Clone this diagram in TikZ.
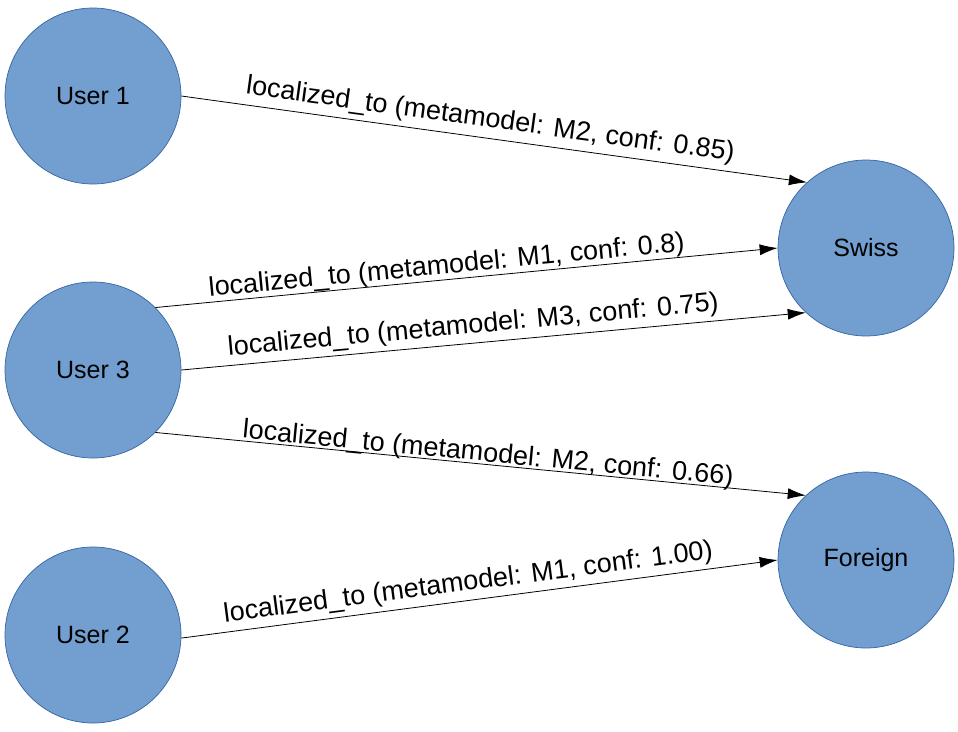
\documentclass[tikz,border=0pt]{standalone}
\usepackage{fontspec}
\setmainfont{Liberation Sans}
\usetikzlibrary{arrows.meta}
\definecolor{nodefill}{HTML}{729FCF}
\definecolor{nodeline}{HTML}{3465A4}
\tikzset{
  ent/.style={circle, draw=nodeline, line width=0.7pt, fill=nodefill, minimum size=176pt, inner sep=0pt, font=\fontsize{25}{30}\selectfont},
  rel/.style={line width=0.8pt, -{Latex[length=18pt,width=11pt]}},
  lbl/.style={sloped, inner sep=0pt, font=\fontsize{27}{30}\selectfont}
}
\begin{document}
\begin{tikzpicture}[x=1pt,y=-1pt]
\useasboundingbox (0,0) rectangle (958,731);
\node[ent] (u1) at (93,96) {User 1};
\node[ent] (u3) at (93,370) {User 3};
\node[ent] (u2) at (93,635) {User 2};
\node[ent] (sw) at (866,248) {Swiss};
\node[ent] (fo) at (866,560) {Foreign};
\draw[rel] (u1.0) -- node[lbl, pos=0.49, above=5pt] {localized\_to (metamodel: M2, conf: 0.85)} (sw.132);
\draw[rel] (u3.45) -- node[lbl, pos=0.47, above=0pt] {localized\_to (metamodel: M1, conf: 0.8)} (sw.180);
\draw[rel] (u3.0) -- node[lbl, pos=0.47, above=4pt] {localized\_to (metamodel: M3, conf: 0.75)} (sw.227);
\draw[rel] (u3.-45) -- node[lbl, pos=0.51, above=-3pt] {localized\_to (metamodel: M2, conf: 0.66)} (fo.133);
\draw[rel] (u2.-2) -- node[lbl, pos=0.485, above=4pt] {localized\_to (metamodel: M1, conf: 1.00)} (fo.180);
\end{tikzpicture}
\end{document}
